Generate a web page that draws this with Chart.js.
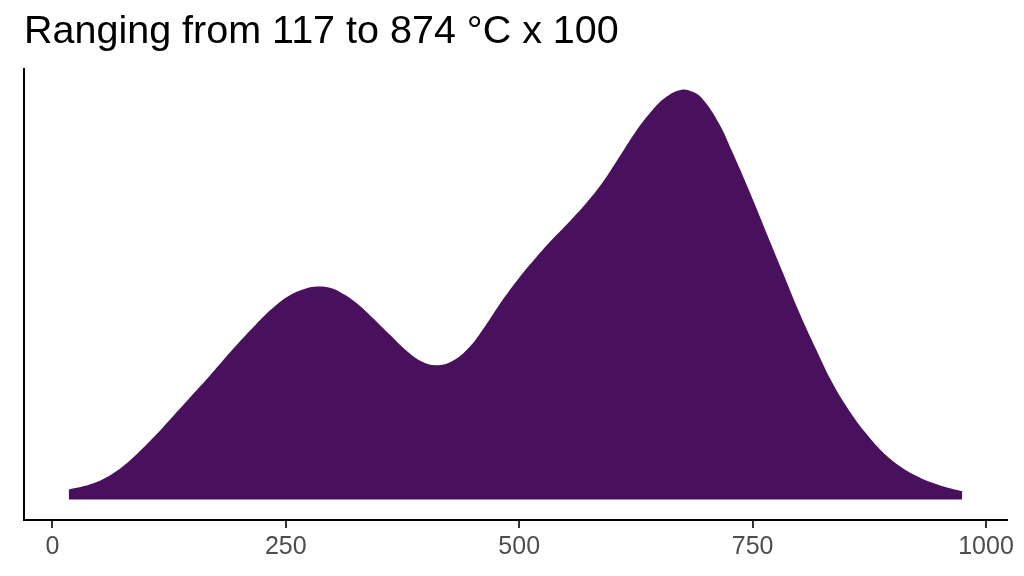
<!DOCTYPE html>
<html>
<head>
<meta charset="utf-8">
<script src="https://cdn.jsdelivr.net/npm/chart.js@4"></script>
<style>
html,body{margin:0;padding:0;background:#fff;}
#wrap{width:1024px;height:576px;position:relative;}
</style>
</head>
<body>
<div id="wrap"><canvas id="c"></canvas></div>
<script>
const titleText = "Ranging from 117 to 874 \u00B0C x 100";
const xValues = [17.5,40,57.5,75,93,110,128.5,146,164.5,182,200,218,235.5,254,271.6,284,296,307,325,342.6,361,378.7,395,411,428,446.5,464,481.8,500,517.9,535,553.5,571,588.9,607,625,642.4,658,673,685,696,714,728,746,764,782,800,818,835,853,871,889,907,925,942,958,974.6];
const densityValues = [10,15,22,33,48,64,83,101,120,139,158,176,192,205,212,214,213,209,198,183,166,150,139,135,139,153,175,200,223,243,261,279,297,318,344,370,391,405,411.7,410,403,378,350,311,270,229,188,151,118,90,67,48,34,24,17,12,8.3];
const xTicks = [0,250,500,750,1000];

const points = xValues.map((x,i)=>({x:x,y:densityValues[i]}));

new Chart(document.getElementById('c'), {
  type: 'line',
  data: {
    datasets: [{
      data: points,
      fill: 'origin',
      backgroundColor: '#49105e',
      borderColor: '#49105e',
      borderWidth: 0,
      pointRadius: 0,
      tension: 0.4
    }]
  },
  options: {
    responsive: true,
    maintainAspectRatio: false,
    animation: false,
    layout: { padding: { left: 24, right: 17, top: 0, bottom: 10 } },
    plugins: {
      legend: { display: false },
      tooltip: { enabled: false },
      title: {
        display: true,
        text: titleText,
        align: 'start',
        color: '#000',
        font: { family: 'Liberation Sans, Arial, sans-serif', size: 39.5, weight: 'normal' },
        padding: { top: 8, bottom: 14 }
      }
    },
    scales: {
      x: {
        type: 'linear',
        min: -30.4,
        max: 1022.5,
        afterBuildTicks: (axis) => { axis.ticks = xTicks.map(v => ({ value: v })); },
        grid: { display: true, drawOnChartArea: false, drawTicks: true, tickLength: 8, color: '#333333', lineWidth: 2 },
        border: { display: true, color: '#000', width: 2 },
        ticks: {
          color: '#4d4d4d',
          padding: 4,
          maxRotation: 0,
          font: { family: 'Liberation Sans, Arial, sans-serif', size: 25 },
          callback: (v) => String(v)
        }
      },
      y: {
        min: -20.6,
        max: 432.3,
        grid: { display: false, drawTicks: false },
        border: { display: true, color: '#000', width: 2 },
        ticks: { display: false }
      }
    }
  }
});
</script>
</body>
</html>
